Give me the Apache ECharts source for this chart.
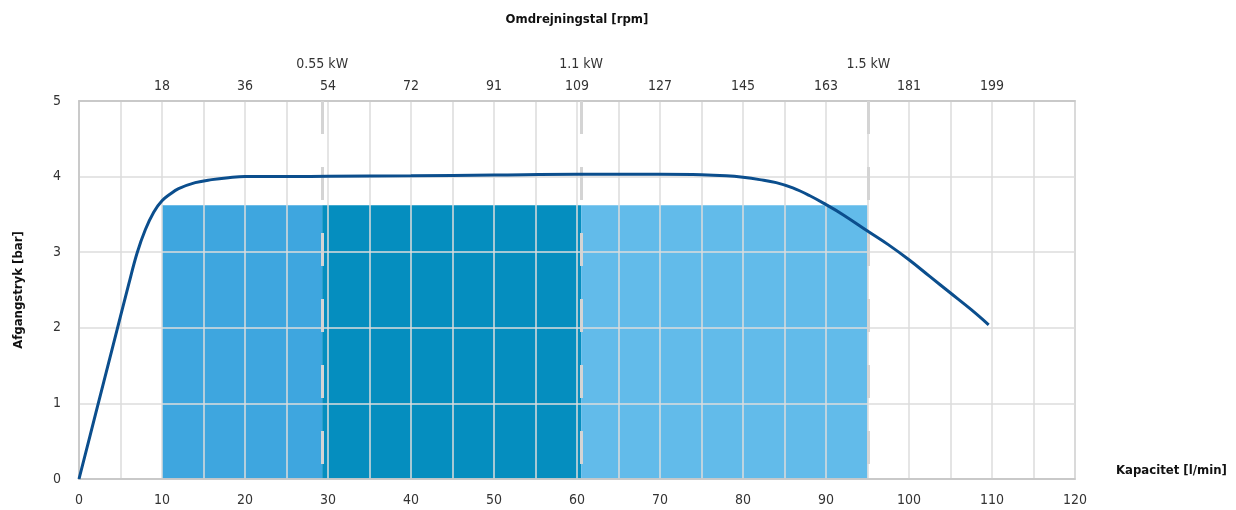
<!DOCTYPE html>
<html>
<head>
<meta charset="utf-8">
<script src="https://cdn.jsdelivr.net/npm/echarts@6/dist/echarts.min.js"></script>
<style>
html,body{margin:0;padding:0;background:#fff;}
#chart{width:1236px;height:510px;}
</style>
</head>
<body>
<div id="chart"></div>
<script>
// Data
const capacity = [0, 2, 4, 6, 7, 8, 9, 10, 11, 12, 14, 16, 18, 20, 25, 30, 40, 50, 60, 70, 75, 78, 80, 82, 84, 86, 88, 90, 92, 95, 97.5, 100, 102.5, 105, 107.5, 109.6];
const pressure = [0, 0.86, 1.72, 2.58, 2.99, 3.3, 3.53, 3.68, 3.77, 3.84, 3.92, 3.96, 3.985, 4.0, 4.0, 4.005, 4.01, 4.02, 4.03, 4.03, 4.025, 4.01, 3.99, 3.96, 3.92, 3.85, 3.75, 3.63, 3.5, 3.28, 3.1, 2.9, 2.68, 2.46, 2.24, 2.04];
const capacityTicks = [0, 10, 20, 30, 40, 50, 60, 70, 80, 90, 100, 110, 120];
const rpmLabels = ['', '18', '36', '54', '72', '91', '109', '127', '145', '163', '181', '199', ''];
const powerLabels = ['0.55 kW', '1.1 kW', '1.5 kW'];
const powerAt = [29.3, 60.5, 95.1];
const zoneStart = [10, 29.3, 60.5];
const zoneEnd = [29.3, 60.5, 95.0];
const zoneHeight = 3.62;

const FONT = "'Liberation Sans Narrow', 'DejaVu Sans Condensed', 'Roboto Condensed', 'Liberation Sans', sans-serif";
const zoneColors = ['#3EA6DF', '#058EBF', '#62BBEA'];
const gridColor = '#dcdcdc';

const chart = echarts.init(document.getElementById('chart'));
const curve = capacity.map((x, i) => [x, pressure[i]]);

chart.setOption({
  animation: false,
  textStyle: { fontFamily: FONT },
  grid: { left: 79, right: 161, top: 101, bottom: 31, outerBoundsMode: 'none', containLabel: false,
    show: true, borderColor: '#c4c4c4', borderWidth: 1.5, backgroundColor: 'transparent' },
  xAxis: [
    {
      type: 'value', position: 'bottom', min: 0, max: 120, interval: 10, z: 3,
      name: 'Kapacitet [l/min]', nameLocation: 'end', nameGap: 41,
      nameTextStyle: { fontFamily: FONT, fontWeight: 'bold', fontSize: 13, color: '#111', verticalAlign: 'bottom', padding: [0, 0, 2, 0] },
      axisLine: { show: true, lineStyle: { color: '#c4c4c4', width: 1.5 } },
      axisTick: { show: false },
      axisLabel: { fontFamily: FONT, fontSize: 14, color: '#333', margin: 14 },
      splitLine: { show: true, lineStyle: { color: gridColor, width: 1.5 } },
      minorTick: { show: false, splitNumber: 2 },
      minorSplitLine: { show: true, lineStyle: { color: gridColor, width: 1.5 } }
    },
    {
      type: 'value', position: 'top', min: 0, max: 120, interval: 10, z: 3,
      name: 'Omdrejningstal [rpm]', nameLocation: 'middle', nameGap: 75,
      nameTextStyle: { fontFamily: FONT, fontWeight: 'bold', fontSize: 13, color: '#111' },
      axisLine: { show: true, lineStyle: { color: '#c4c4c4', width: 1.5 } },
      axisTick: { show: false },
      axisLabel: { fontFamily: FONT, fontSize: 14, color: '#333', margin: 8,
        formatter: v => { const i = capacityTicks.indexOf(v); return i >= 0 ? rpmLabels[i] : ''; } },
      splitLine: { show: false }
    }
  ],
  yAxis: {
    type: 'value', min: 0, max: 5, interval: 1, z: 3,
    name: 'Afgangstryk [bar]', nameLocation: 'middle', nameGap: 54, nameRotate: 90,
    nameTextStyle: { fontFamily: FONT, fontWeight: 'bold', fontSize: 13, color: '#111' },
    axisLine: { show: true, lineStyle: { color: '#c4c4c4', width: 1.5 } },
    axisTick: { show: false },
    axisLabel: { fontFamily: FONT, fontSize: 14, color: '#333', margin: 18 },
    splitLine: { show: true, lineStyle: { color: gridColor, width: 1.5 } }
  },
  series: [
    {
      name: 'zones', type: 'line', data: [], z: 1, silent: true,
      markArea: {
        silent: true,
        data: zoneStart.map((s, i) => [
          { xAxis: s, yAxis: 0, itemStyle: { color: zoneColors[i], opacity: 1 } },
          { xAxis: zoneEnd[i], yAxis: zoneHeight }
        ])
      }
    },
    {
      name: 'power', type: 'line', data: [], z: 4, silent: true,
      markLine: {
        silent: true, symbol: ['none', 'none'],
        lineStyle: { color: '#d4d4d4', width: 3, type: [33, 33], dashOffset: 51 },
        label: { show: true, position: 'end', distance: 30, fontFamily: FONT, fontSize: 14, color: '#333', formatter: p => p.name },
        data: powerAt.map((x, i) => ({ name: powerLabels[i], xAxis: x }))
      }
    },
    {
      name: 'curve', type: 'line', data: curve, z: 5,
      smooth: 0.4, showSymbol: false, symbol: 'none',
      lineStyle: { color: '#0B4E8D', width: 3 }
    }
  ]
});
</script>
</body>
</html>
